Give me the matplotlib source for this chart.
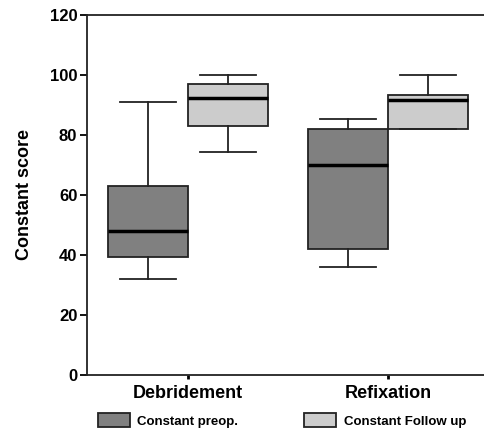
import matplotlib
matplotlib.use("Agg")
import matplotlib.pyplot as plt
from matplotlib.patches import Patch

plt.rcParams["font.family"] = ["Liberation Sans", "DejaVu Sans"]
plt.rcParams["font.weight"] = "bold"

groups = ["Debridement", "Refixation"]
series = ["Constant preop.", "Constant Follow up"]
colors = ["#808080", "#cccccc"]

# whisker low, q1, median, q3, whisker high
preop = [[32, 39.3, 48, 63, 91],
         [36, 42, 70, 82, 85.3]]
followup = [[74.2, 83, 92.2, 97, 100],
            [82, 82, 91.6, 93.2, 100]]

fig = plt.figure(figsize=(4.85, 4.3), dpi=100)
ax = fig.add_axes([87 / 485, 55 / 430, 402 / 485, 360 / 430])

for k, (data, col, off) in enumerate([(preop, colors[0], -0.2), (followup, colors[1], 0.2)]):
    stats = []
    for d in data:
        stats.append({"whislo": d[0], "q1": d[1], "med": d[2], "q3": d[3], "whishi": d[4]})
    pos = [i + 1 + off for i in range(len(groups))]
    ax.bxp(stats, positions=pos, widths=0.4, showfliers=False, patch_artist=True,
           boxprops=dict(facecolor=col, edgecolor="#222222", linewidth=1.3),
           medianprops=dict(color="black", linewidth=2.5),
           whiskerprops=dict(color="#222222", linewidth=1.3),
           capprops=dict(color="#222222", linewidth=1.3),
           capwidths=0.28)

ax.set_xlim(0.495, 2.505)
ax.set_ylim(0, 120)
ax.set_yticks([0, 20, 40, 60, 80, 100, 120])
ax.set_xticks([1, 2])
ax.set_xticklabels(groups, fontsize=13, fontweight="bold")
ax.tick_params(axis="y", labelsize=12, length=5, width=1.3, pad=2)
ax.tick_params(axis="x", length=3, width=2, pad=4)
for t in ax.get_yticklabels():
    t.set_fontweight("bold")
ax.set_ylabel("Constant score", fontsize=13, fontweight="bold", labelpad=12)
ax.spines["right"].set_visible(False)
for s in ["left", "bottom", "top"]:
    ax.spines[s].set_linewidth(1.3)
    ax.spines[s].set_color("#222222")

handles = [Patch(facecolor=c, edgecolor="#222222", linewidth=1.3) for c in colors]
fig.legend(handles, series, loc="lower left", bbox_to_anchor=(86 / 485, -0.022), ncol=2,
           frameon=False, prop={"size": 9.5, "weight": "bold"},
           handlelength=2.4, handleheight=1.25, handletextpad=0.6, columnspacing=5.0)

fig.savefig("out.png", dpi=100)
